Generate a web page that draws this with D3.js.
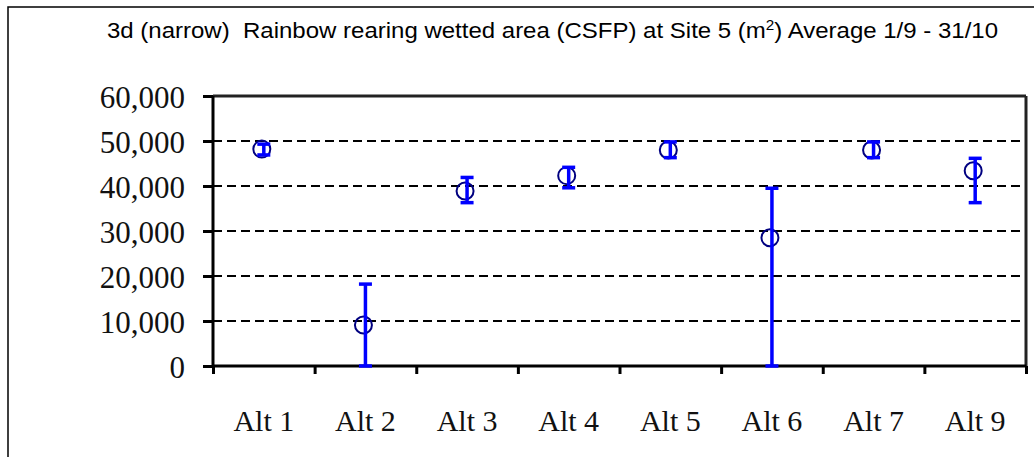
<!DOCTYPE html>
<html>
<head>
<meta charset="utf-8">
<script src="https://cdn.jsdelivr.net/npm/d3@7"></script>
<style>
  body { margin: 0; background: #fff; }
  svg { display: block; }
</style>
</head>
<body>
<div id="chart"></div>
<script>
// data
var alts = ["Alt 1", "Alt 2", "Alt 3", "Alt 4", "Alt 5", "Alt 6", "Alt 7", "Alt 9"];
var means = [48200, 9100, 38900, 42300, 48000, 28500, 48000, 43400];
var lows  = [46900, 0, 36300, 39600, 46300, 0, 46300, 36300];
var highs = [49300, 18200, 41900, 44150, 49800, 39500, 49800, 46150];
var yTicks = [0, 10000, 20000, 30000, 40000, 50000, 60000];

var W = 1034, H = 457;
var margin = {top: 96, right: 8, bottom: 91, left: 213},
    width = W - margin.left - margin.right,
    height = H - margin.top - margin.bottom;

var svg = d3.select("#chart")
    .append("svg")
    .attr("width", W)
    .attr("height", H);

// outer chart frame
svg.append("rect")
    .attr("x", 8).attr("y", 7)
    .attr("width", 1040).attr("height", 470)
    .attr("fill", "none")
    .attr("stroke", "#000")
    .attr("stroke-width", 1.5);

svg.append("text")
    .attr("x", 107).attr("y", 38)
    .attr("textLength", 891)
    .attr("lengthAdjust", "spacingAndGlyphs")
    .style("font-family", "'Liberation Sans', Arial, sans-serif")
    .style("font-size", "22px")
    .call(function(t) {
        t.append("tspan").text("3d (narrow)\u00a0\u00a0Rainbow rearing wetted area (CSFP) at Site 5 (m");
        t.append("tspan").attr("dy", -8).style("font-size", "14px").text("2");
        t.append("tspan").attr("dy", 8).text(") Average 1/9 - 31/10");
    });

var g = svg.append("g")
    .attr("transform", "translate(" + margin.left + "," + margin.top + ")");

var x = d3.scaleBand()
    .domain(alts)
    .range([0, width]);

var xEdge = d3.scaleLinear()
    .domain([0, alts.length])
    .range([0, width]);

var y = d3.scaleLinear()
    .domain([0, 60000])
    .range([height, 0]);

// dashed gridlines
g.selectAll(".grid")
    .data(yTicks.filter(function(d) { return d > 0 && d < 60000; }))
    .enter()
    .append("line")
    .attr("x1", 0).attr("x2", width)
    .attr("y1", function(d) { return y(d); })
    .attr("y2", function(d) { return y(d); })
    .attr("stroke", "#000")
    .attr("stroke-width", 2)
    .attr("stroke-dasharray", "9,5");

// plot frame top / right
g.append("line")
    .attr("x1", 0).attr("x2", width)
    .attr("y1", 0).attr("y2", 0)
    .attr("stroke", "#222").attr("stroke-width", 3);
g.append("line")
    .attr("x1", width).attr("x2", width)
    .attr("y1", 0).attr("y2", height)
    .attr("stroke", "#222").attr("stroke-width", 3);

// y axis
var yAxis = g.append("g")
    .call(d3.axisLeft(y)
        .tickValues(yTicks)
        .tickSize(10)
        .tickPadding(18)
        .tickFormat(d3.format(",")));
yAxis.select(".domain").attr("stroke-width", 3).attr("d", "M0,0V" + height);
yAxis.selectAll(".tick line").attr("stroke-width", 3);
yAxis.selectAll("text")
    .attr("dy", "0.36em")
    .style("font-family", "'Liberation Serif', 'Times New Roman', serif")
    .style("font-size", "31px")
    .attr("fill", "#111");

// x axis: ticks at category edges
var xTickAxis = g.append("g")
    .attr("transform", "translate(0," + height + ")")
    .call(d3.axisBottom(xEdge)
        .ticks(alts.length)
        .tickSize(8)
        .tickFormat(""));
xTickAxis.select(".domain").attr("stroke-width", 3).attr("d", "M0,0H" + width);
xTickAxis.selectAll(".tick line").attr("stroke-width", 3);

var xLabels = g.append("g")
    .attr("transform", "translate(0," + height + ")")
    .call(d3.axisBottom(x).tickSize(0).tickPadding(44));
xLabels.select(".domain").remove();
xLabels.selectAll("text")
    .style("font-family", "'Liberation Serif', 'Times New Roman', serif")
    .style("font-size", "30px")
    .attr("fill", "#111");

// points
var cx = function(d, i) { return x(alts[i]) + x.bandwidth() / 2; };

g.selectAll(".pt")
    .data(means)
    .enter()
    .append("circle")
    .attr("cx", function(d, i) { return cx(d, i) - 2; })
    .attr("cy", function(d) { return y(d); })
    .attr("r", 8.5)
    .attr("fill", "none")
    .attr("stroke", "#000080")
    .attr("stroke-width", 2);

// error bars
var bars = g.selectAll(".err")
    .data(means)
    .enter()
    .append("g")
    .attr("stroke", "#0000ff")
    .attr("stroke-width", 3.5);

bars.append("line")
    .attr("x1", cx).attr("x2", cx)
    .attr("y1", function(d, i) { return y(lows[i]); })
    .attr("y2", function(d, i) { return y(highs[i]); });
bars.append("line")
    .attr("x1", function(d, i) { return cx(d, i) - 6.5; })
    .attr("x2", function(d, i) { return cx(d, i) + 6.5; })
    .attr("y1", function(d, i) { return y(highs[i]); })
    .attr("y2", function(d, i) { return y(highs[i]); });
bars.append("line")
    .attr("x1", function(d, i) { return cx(d, i) - 6.5; })
    .attr("x2", function(d, i) { return cx(d, i) + 6.5; })
    .attr("y1", function(d, i) { return y(lows[i]); })
    .attr("y2", function(d, i) { return y(lows[i]); });
</script>
</body>
</html>
